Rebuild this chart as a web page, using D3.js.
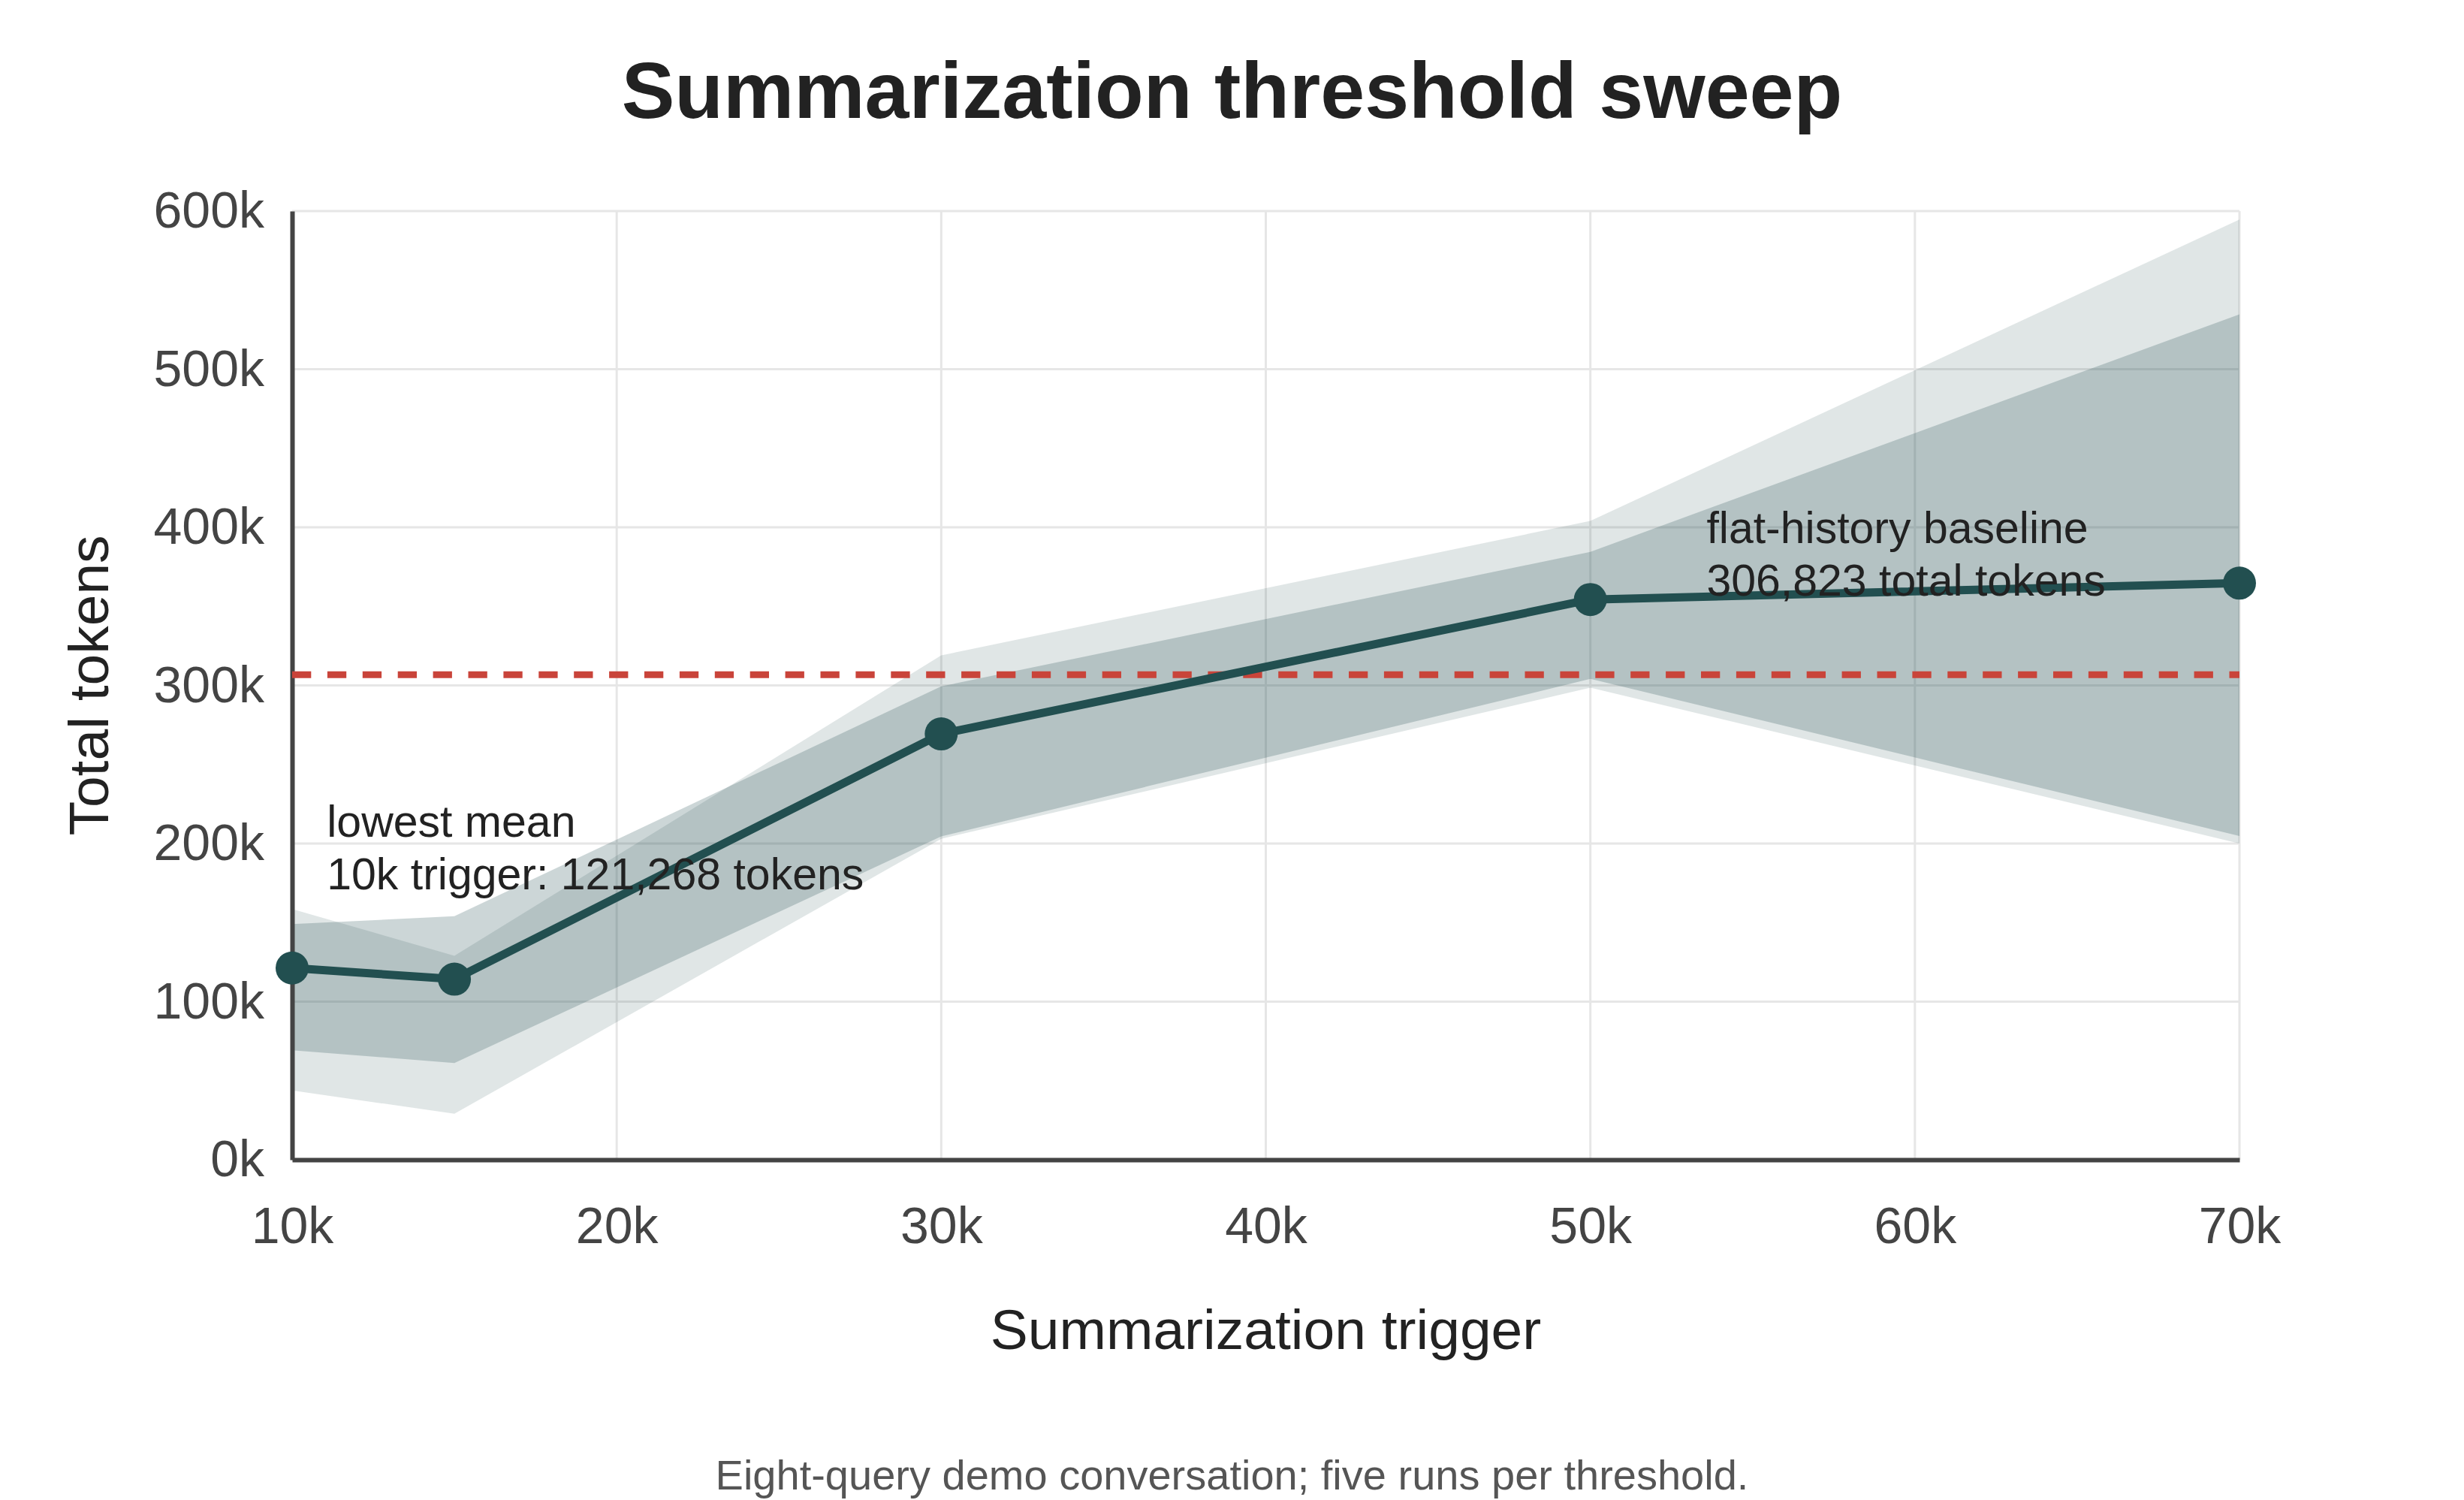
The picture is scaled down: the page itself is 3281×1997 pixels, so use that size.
<!DOCTYPE html>
<html>
<head>
<meta charset="utf-8">
<script src="https://cdn.jsdelivr.net/npm/d3@7"></script>
<style>
  html, body { margin: 0; padding: 0; background: #fff; }
  svg { display: block; font-family: "Liberation Sans", Arial, Helvetica, sans-serif; }
</style>
</head>
<body>
<div id="chart"></div>
<script>
// summarization trigger thresholds (tokens)
var triggers = [10000, 15000, 30000, 50000, 70000];
// mean total tokens over five runs
var meanTokens = [121268, 114200, 269300, 354300, 364700];
// full run range (lighter band)
var rangeLow  = [43800, 29100, 203000, 298600, 200000];
var rangeHigh = [158600, 129000, 319000, 404000, 594700];
// spread around the mean (darker band)
var spreadLow  = [69200, 61200, 204500, 304100, 204700];
var spreadHigh = [149000, 154000, 299400, 384500, 534700];

var baselineTokens = 306823;
var xTicks = [10000, 20000, 30000, 40000, 50000, 60000, 70000];
var yTicks = [0, 100000, 200000, 300000, 400000, 500000, 600000];

var width = 3281,
    height = 1997,
    margin = {top: 281, right: 299, bottom: 453, left: 389};

var teal = "#224f50",
    red = "#c9443a";

var svg = d3.select("#chart").append("svg")
    .attr("width", width)
    .attr("height", height);

var x = d3.scaleLinear()
    .domain([10000, 70000])
    .range([margin.left, width - margin.right]);

var y = d3.scaleLinear()
    .domain([0, 600000])
    .range([height - margin.bottom, margin.top]);

var fmt = function(d) { return (d / 1000) + "k"; };

// grid
var grid = svg.append("g");
grid.selectAll(".vgrid").data(xTicks).enter().append("line")
    .attr("x1", function(d) { return x(d); })
    .attr("x2", function(d) { return x(d); })
    .attr("y1", y(0))
    .attr("y2", y(600000))
    .attr("stroke", "#e6e6e6")
    .attr("stroke-width", 3);
grid.selectAll(".hgrid").data(yTicks).enter().append("line")
    .attr("x1", x(10000))
    .attr("x2", x(70000))
    .attr("y1", function(d) { return y(d); })
    .attr("y2", function(d) { return y(d); })
    .attr("stroke", "#e6e6e6")
    .attr("stroke-width", 3);

var rows = triggers.map(function(t, i) {
  return {t: t, mean: meanTokens[i], lo: rangeLow[i], hi: rangeHigh[i], slo: spreadLow[i], shi: spreadHigh[i]};
});

var rangeArea = d3.area()
    .x(function(d) { return x(d.t); })
    .y0(function(d) { return y(d.lo); })
    .y1(function(d) { return y(d.hi); });

var spreadArea = d3.area()
    .x(function(d) { return x(d.t); })
    .y0(function(d) { return y(d.slo); })
    .y1(function(d) { return y(d.shi); });

svg.append("path")
    .datum(rows)
    .attr("d", rangeArea)
    .attr("fill", teal)
    .attr("fill-opacity", 0.14);

svg.append("path")
    .datum(rows)
    .attr("d", spreadArea)
    .attr("fill", teal)
    .attr("fill-opacity", 0.232);

// axes
var yAxis = svg.append("g")
    .attr("transform", "translate(" + margin.left + ",0)")
    .call(d3.axisLeft(y).tickValues(yTicks).tickFormat(fmt).tickSize(0).tickPadding(37));

var xAxis = svg.append("g")
    .attr("transform", "translate(0," + (height - margin.bottom) + ")")
    .call(d3.axisBottom(x).tickValues(xTicks).tickFormat(fmt).tickSize(0).tickPadding(63));

[yAxis, xAxis].forEach(function(a) {
  a.select(".domain").attr("stroke", "#444").attr("stroke-width", 6);
  a.selectAll("text")
      .attr("font-size", 68)
      .attr("font-family", "'Liberation Sans', Arial, sans-serif")
      .attr("fill", "#444");
});

// flat-history baseline
svg.append("line")
    .attr("x1", x(10000))
    .attr("x2", x(70000))
    .attr("y1", y(baselineTokens))
    .attr("y2", y(baselineTokens))
    .attr("stroke", red)
    .attr("stroke-width", 9)
    .attr("stroke-dasharray", "25.3,21.6");

// mean line
var line = d3.line()
    .x(function(d) { return x(d.t); })
    .y(function(d) { return y(d.mean); });

svg.append("path")
    .datum(rows)
    .attr("d", line)
    .attr("fill", "none")
    .attr("stroke", teal)
    .attr("stroke-width", 11)
    .attr("stroke-linejoin", "round");

svg.selectAll(".dot").data(rows).enter().append("circle")
    .attr("cx", function(d) { return x(d.t); })
    .attr("cy", function(d) { return y(d.mean); })
    .attr("r", 22)
    .attr("fill", teal);

// annotations
function note(tx, ty, lines) {
  var t = svg.append("text")
      .attr("x", x(tx))
      .attr("y", y(ty))
      .attr("font-size", 59)
      .attr("fill", "#222");
  lines.forEach(function(s, i) {
    t.append("tspan")
        .attr("x", x(tx))
        .attr("dy", i ? 69.5 : 0)
        .text(s);
  });
}
note(11070, 204100, ["lowest mean", "10k trigger: " + d3.format(",")(meanTokens[0]) + " tokens"]);
note(53580, 389800, ["flat-history baseline", d3.format(",")(baselineTokens) + " total tokens"]);

// titles
svg.append("text")
    .attr("x", width / 2)
    .attr("y", 157)
    .attr("text-anchor", "middle")
    .attr("font-size", 106)
    .attr("font-weight", "bold")
    .attr("fill", "#222")
    .text("Summarization threshold sweep");

svg.append("text")
    .attr("x", (x(10000) + x(70000)) / 2)
    .attr("y", 1796)
    .attr("text-anchor", "middle")
    .attr("font-size", 75)
    .attr("fill", "#222")
    .text("Summarization trigger");

svg.append("text")
    .attr("transform", "translate(144," + ((y(0) + y(600000)) / 2) + ") rotate(-90)")
    .attr("text-anchor", "middle")
    .attr("font-size", 75)
    .attr("fill", "#222")
    .text("Total tokens");

svg.append("text")
    .attr("x", width / 2)
    .attr("y", 1983)
    .attr("text-anchor", "middle")
    .attr("font-size", 56)
    .attr("fill", "#555")
    .text("Eight-query demo conversation; five runs per threshold.");
</script>
</body>
</html>
